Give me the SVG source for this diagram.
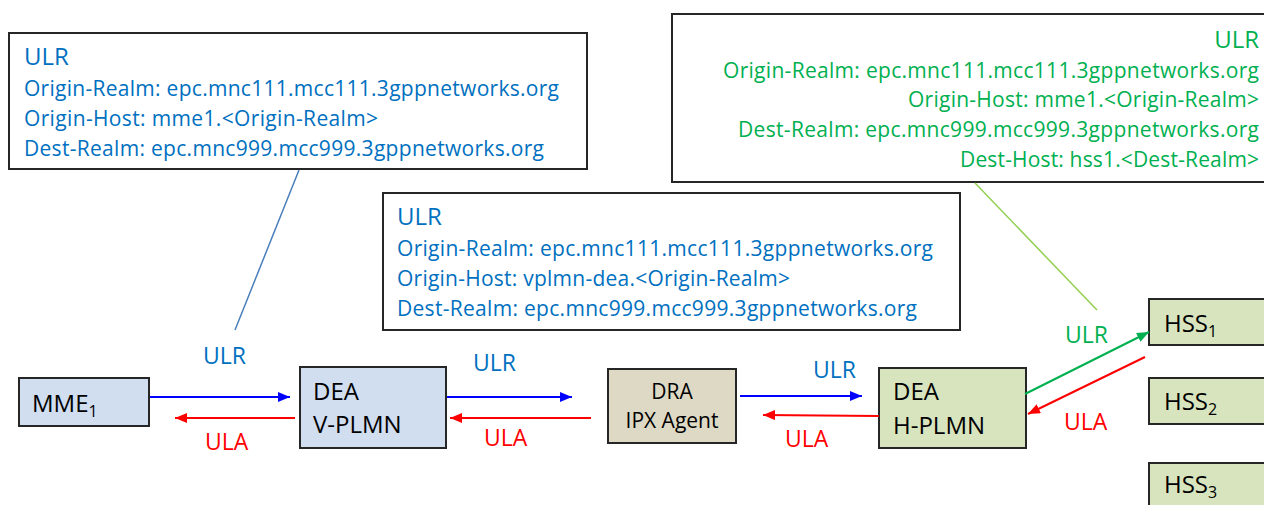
<svg xmlns="http://www.w3.org/2000/svg" width="1264" height="505" viewBox="0 0 1264 505">
<style>
text{font-family:"Open Sans","Liberation Sans",sans-serif}
.box{fill:#fff;stroke:#262626;stroke-width:2}
.bt{fill:#0070C0;font-size:21px}
.bh{fill:#0070C0;font-size:24px}
.gt{fill:#00B050;font-size:21px;text-anchor:end}
.gh{fill:#00B050;font-size:24px;text-anchor:end}
.nb{fill:#D0DEEF;stroke:#262626;stroke-width:2}
.nt{fill:#DDD9C4;stroke:#262626;stroke-width:2}
.ng{fill:#D7E4BD;stroke:#262626;stroke-width:2}
.lbl{font-size:24px;fill:#000}
.sub{font-size:16px}
.ulr{fill:#0070C0;font-size:23px}
.ula{fill:#FF0000;font-size:23px}
.ulrg{fill:#00B050;font-size:23px}
.ab{stroke:#0000FF;stroke-width:2;fill:none}
.ar{stroke:#FF0000;stroke-width:2;fill:none}
.ag{stroke:#00B050;stroke-width:2;fill:none}
</style>
<defs>
<marker id="mb" markerUnits="userSpaceOnUse" markerWidth="13" markerHeight="10" refX="12" refY="5" orient="auto"><path d="M0,0 L12,5 L0,10 z" fill="#0000FF"/></marker>
<marker id="mr" markerUnits="userSpaceOnUse" markerWidth="13" markerHeight="10" refX="12" refY="5" orient="auto"><path d="M0,0 L12,5 L0,10 z" fill="#FF0000"/></marker>
<marker id="mg" markerUnits="userSpaceOnUse" markerWidth="13" markerHeight="10" refX="12" refY="5" orient="auto"><path d="M0,0 L12,5 L0,10 z" fill="#00B050"/></marker>
</defs>

<g id="note-mme">
<rect class="box" x="9" y="33" width="578" height="136"/>
<text class="bh" x="24" y="65">ULR</text>
<text class="bt" x="24" y="96" textLength="535">Origin-Realm: epc.mnc111.mcc111.3gppnetworks.org</text>
<text class="bt" x="24" y="126" textLength="354">Origin-Host: mme1.&lt;Origin-Realm&gt;</text>
<text class="bt" x="24" y="156" textLength="520">Dest-Realm: epc.mnc999.mcc999.3gppnetworks.org</text>
</g>

<g id="note-vplmn">
<rect class="box" x="383" y="193" width="577" height="137"/>
<text class="bh" x="397" y="225">ULR</text>
<text class="bt" x="397" y="256" textLength="536">Origin-Realm: epc.mnc111.mcc111.3gppnetworks.org</text>
<text class="bt" x="397" y="286" textLength="393">Origin-Host: vplmn-dea.&lt;Origin-Realm&gt;</text>
<text class="bt" x="397" y="316" textLength="520">Dest-Realm: epc.mnc999.mcc999.3gppnetworks.org</text>
</g>

<g id="note-hplmn">
<rect class="box" x="672" y="14" width="600" height="168"/>
<text class="gh" x="1259" y="48">ULR</text>
<text class="gt" x="1259" y="78" textLength="536">Origin-Realm: epc.mnc111.mcc111.3gppnetworks.org</text>
<text class="gt" x="1259" y="107" textLength="351">Origin-Host: mme1.&lt;Origin-Realm&gt;</text>
<text class="gt" x="1259" y="137" textLength="521">Dest-Realm: epc.mnc999.mcc999.3gppnetworks.org</text>
<text class="gt" x="1259" y="167" textLength="299">Dest-Host: hss1.&lt;Dest-Realm&gt;</text>
</g>

<g id="mme1">
<rect class="nb" x="19" y="378" width="130" height="48"/>
<text class="lbl" x="32" y="412">MME<tspan class="sub" dy="5">1</tspan></text>
</g>

<g id="dea-vplmn">
<rect class="nb" x="300" y="367" width="146" height="81"/>
<text class="lbl" x="313" y="400">DEA</text>
<text class="lbl" x="313" y="433">V-PLMN</text>
</g>

<g id="dra-ipx">
<rect class="nt" x="608" y="369" width="128" height="74"/>
<text class="lbl" x="672" y="399" text-anchor="middle" style="font-size:21px">DRA</text>
<text class="lbl" x="672" y="428" text-anchor="middle" style="font-size:21px">IPX Agent</text>
</g>

<g id="dea-hplmn">
<rect class="ng" x="879" y="368" width="147" height="80"/>
<text class="lbl" x="893" y="400">DEA</text>
<text class="lbl" x="893" y="434">H-PLMN</text>
</g>

<g id="hss1">
<rect class="ng" x="1149" y="299" width="130" height="46"/>
<text class="lbl" x="1164" y="332">HSS<tspan class="sub" dy="5">1</tspan></text>
</g>
<g id="hss2">
<rect class="ng" x="1149" y="378" width="130" height="46"/>
<text class="lbl" x="1164" y="410">HSS<tspan class="sub" dy="5">2</tspan></text>
</g>
<g id="hss3">
<rect class="ng" x="1149" y="463" width="130" height="50"/>
<text class="lbl" x="1164" y="493">HSS<tspan class="sub" dy="5">3</tspan></text>
</g>

<g id="connectors">
<line x1="299" y1="170" x2="235" y2="330" stroke="#4A7EBB" stroke-width="1.5"/>
<line x1="975" y1="183" x2="1097" y2="310" stroke="#92D050" stroke-width="1.5"/>
<line class="ab" x1="150" y1="397" x2="290" y2="397" marker-end="url(#mb)"/>
<line class="ar" x1="295" y1="418" x2="175" y2="418" marker-end="url(#mr)"/>
<line class="ab" x1="447" y1="397" x2="572" y2="397" marker-end="url(#mb)"/>
<line class="ar" x1="591" y1="418" x2="450" y2="418" marker-end="url(#mr)"/>
<line class="ab" x1="740" y1="396" x2="862" y2="396" marker-end="url(#mb)"/>
<line class="ar" x1="879" y1="416" x2="763" y2="415" marker-end="url(#mr)"/>
<line class="ag" x1="1025" y1="394" x2="1149" y2="332" marker-end="url(#mg)"/>
<line class="ar" x1="1145" y1="357" x2="1028" y2="414" marker-end="url(#mr)"/>
<text class="ulr" x="203" y="364">ULR</text>
<text class="ula" x="205" y="450">ULA</text>
<text class="ulr" x="473" y="371">ULR</text>
<text class="ula" x="484" y="446">ULA</text>
<text class="ulr" x="813" y="378">ULR</text>
<text class="ula" x="785" y="447">ULA</text>
<text class="ulrg" x="1065" y="343">ULR</text>
<text class="ula" x="1064" y="430">ULA</text>
</g>
</svg>
